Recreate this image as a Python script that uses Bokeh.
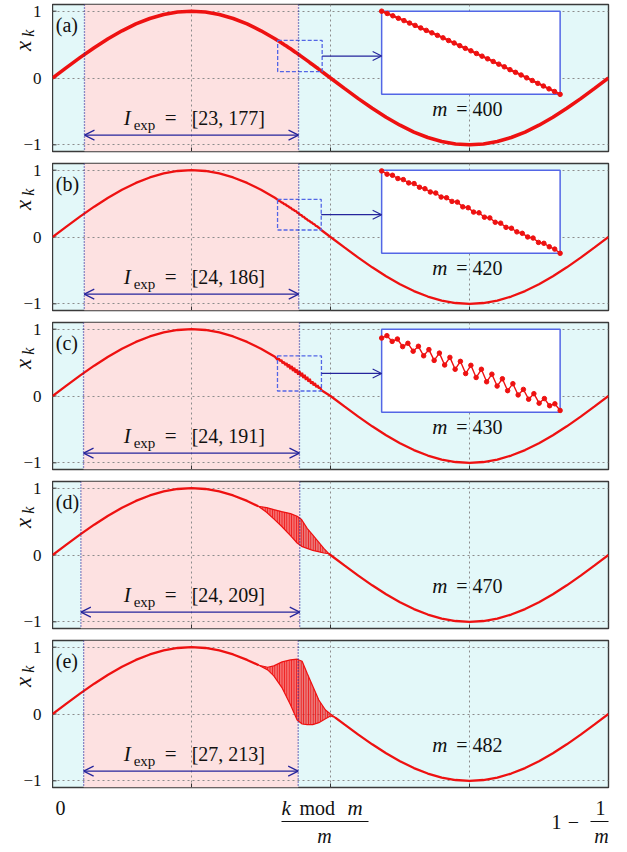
import math
from bokeh.plotting import figure
from bokeh.layouts import column, row
from bokeh.models import Label, Span, Arrow, OpenHead, FixedTicker
from bokeh.embed import file_html
from bokeh.resources import INLINE

FONT = "Liberation Serif"
CYAN = "#e3f8f9"
PINK = "#fde1e1"
RED = "#ee1111"
NAVY = "#25259c"
BLUE = "#5366e6"
GRID = "#8c8c8c"
INK = "#111111"

# ---------------- data ----------------
base_x = [i / 40 for i in range(41)]
base_y = [0.000, 0.156, 0.309, 0.454, 0.588, 0.707, 0.809, 0.891, 0.951, 0.988,
          1.000, 0.988, 0.951, 0.891, 0.809, 0.707, 0.588, 0.454, 0.309, 0.156,
          0.000, -0.156, -0.309, -0.454, -0.588, -0.707, -0.809, -0.891, -0.951, -0.988,
          -1.000, -0.988, -0.951, -0.891, -0.809, -0.707, -0.588, -0.454, -0.309, -0.156,
          0.000]

y_ticks = [-1, 0, 1]
y_tick_labels = ["\u22121", "0", "1"]
x_ticks = [0.25, 0.5, 0.75]

panel_tags = ["(a)", "(b)", "(c)", "(d)", "(e)"]
m_values = [400, 420, 430, 470, 482]
iexp_lo = [23, 24, 24, 24, 27]
iexp_hi = [177, 186, 191, 209, 213]

# zoomed windows (panels a, b, c): first index k0 and the values x_k
zoom_k0 = [162, 170, 174]
zoom_a = [0.562, 0.549, 0.536, 0.522, 0.509, 0.495, 0.482, 0.468, 0.454, 0.440,
          0.426, 0.412, 0.397, 0.383, 0.368, 0.353, 0.339, 0.324, 0.309, 0.294,
          0.279, 0.264, 0.249, 0.233, 0.218, 0.203, 0.187, 0.172, 0.156, 0.141,
          0.125, 0.110, 0.094]
zoom_b = [0.559, 0.541, 0.535, 0.517, 0.511, 0.493, 0.489, 0.469, 0.461, 0.443,
          0.437, 0.415, 0.411, 0.391, 0.387, 0.361, 0.356, 0.332, 0.328, 0.304,
          0.300, 0.276, 0.271, 0.248, 0.243, 0.223, 0.215, 0.195, 0.189, 0.165,
          0.160, 0.141, 0.128, 0.105]
zoom_c = [0.544, 0.559, 0.523, 0.538, 0.490, 0.511, 0.461, 0.492, 0.432, 0.471,
          0.403, 0.449, 0.374, 0.422, 0.347, 0.397, 0.320, 0.372, 0.295, 0.347,
          0.268, 0.316, 0.241, 0.287, 0.212, 0.256, 0.185, 0.220, 0.158, 0.193,
          0.133, 0.162, 0.117, 0.129, 0.087]
zoom_vals = [zoom_a, zoom_b, zoom_c]
zoom_ylo = [0.094, 0.1045, 0.075]
zoom_yhi = [0.562, 0.563, 0.600]

# oscillation envelopes (panels d, e)
osc_d_x = [0.370, 0.385, 0.398, 0.412, 0.428, 0.440, 0.448, 0.458, 0.468, 0.478, 0.488, 0.497]
osc_d_hi = [0.73, 0.71, 0.68, 0.65, 0.62, 0.58, 0.53, 0.40, 0.30, 0.20, 0.10, 0.02]
osc_d_lo = [0.73, 0.64, 0.54, 0.43, 0.29, 0.18, 0.13, 0.10, 0.07, 0.05, 0.03, 0.02]
osc_e_x = [0.371, 0.387, 0.398, 0.413, 0.428, 0.440, 0.449, 0.458, 0.468, 0.479, 0.491, 0.500, 0.508]
osc_e_hi = [0.73, 0.70, 0.72, 0.78, 0.81, 0.82, 0.79, 0.61, 0.42, 0.21, 0.06, 0.00, -0.05]
osc_e_lo = [0.73, 0.66, 0.57, 0.39, 0.14, -0.09, -0.15, -0.16, -0.16, -0.13, -0.07, -0.03, -0.05]
osc = {3: (osc_d_x, osc_d_hi, osc_d_lo), 4: (osc_e_x, osc_e_hi, osc_e_lo)}

# ---------------- layout constants ----------------
FW, FH = 556, 147
LEFT_W = 52
BOX_X0, BOX_X1, BOX_Y0, BOX_Y1 = 0.592, 0.913, -0.245, 1.0
PX = 1 / FW            # data units per pixel in x
PY = 2.2 / FH          # data units per pixel in y


def lbl(p, x, y, text, size="20px", style="normal", align="left", baseline="middle",
        angle=0.0, color=INK):
    p.add_layout(Label(x=x, y=y, text=text, text_font=FONT, text_font_size=size,
                       text_font_style=style, text_align=align, text_baseline=baseline,
                       angle=angle, text_color=color))


def bare(p):
    p.axis.visible = False
    p.grid.visible = False
    p.outline_line_color = None
    p.background_fill_color = None
    p.border_fill_color = "white"


def make_left(i, top, bottom):
    p = figure(frame_width=LEFT_W, frame_height=FH, x_range=(0, LEFT_W), y_range=(-1.1, 1.1),
               output_backend="svg", toolbar_location=None,
               min_border_left=0, min_border_right=0, min_border_top=top,
               min_border_bottom=bottom)
    bare(p)
    for t, s in zip(y_ticks, y_tick_labels):
        lbl(p, 41, t, s, size="17px", align="right")
    lbl(p, 22.5, 0.48, "x", size="23px", style="italic", align="center", angle=math.pi / 2)
    lbl(p, 27.5, 0.67, "k", size="16px", style="italic", align="center", angle=math.pi / 2)
    return p


def make_panel(i, top, bottom):
    m = m_values[i]
    p = figure(frame_width=FW, frame_height=FH, x_range=(0, 1), y_range=(-1.1, 1.1),
               output_backend="svg", toolbar_location=None,
               min_border_left=0, min_border_right=10, min_border_top=top,
               min_border_bottom=bottom)
    p.axis.visible = False
    p.background_fill_color = CYAN
    p.border_fill_color = "white"
    p.outline_line_color = "#3a3a3a"
    p.outline_line_width = 1.4

    p.xgrid.ticker = FixedTicker(ticks=x_ticks)
    p.ygrid.ticker = FixedTicker(ticks=y_ticks)
    p.grid.grid_line_color = GRID
    p.grid.grid_line_dash = "2 3"
    p.grid.grid_line_width = 1

    # inward tick marks
    p.segment(x0=x_ticks, x1=x_ticks, y0=[-1.1] * 3, y1=[-1.1 + 4 * PY] * 3,
              line_color="#333333", line_width=1)
    p.segment(x0=[0] * 3, x1=[4 * PX] * 3, y0=y_ticks, y1=y_ticks,
              line_color="#333333", line_width=1)

    xs0, xs1 = iexp_lo[i] / m, iexp_hi[i] / m
    # pink interval band (under the grid)
    p.quad(left=[xs0], right=[xs1], bottom=[-1.1], top=[1.1], fill_color=PINK,
           line_color=None, level="image")
    for xv in (xs0, xs1):
        p.add_layout(Span(location=xv, dimension="height", line_color=NAVY,
                          line_dash="1 2", line_width=1.3))

    lw = 3.6 if i == 0 else 2.3
    if i < 3:
        k0 = zoom_k0[i]
        vals = zoom_vals[i]
        zx = [(k0 + j) / m for j in range(len(vals))]
        xs = [x for x in base_x if x < zx[0]] + zx + [x for x in base_x if x > zx[-1]]
        ys = ([y for x, y in zip(base_x, base_y) if x < zx[0]] + vals +
              [y for x, y in zip(base_x, base_y) if x > zx[-1]])
        p.line(xs, ys, line_color=RED, line_width=lw)

        # dashed zoom rectangle
        rx0, rx1 = zx[0], zx[-1]
        ry0, ry1 = zoom_ylo[i], zoom_yhi[i]
        p.quad(left=[rx0], right=[rx1], bottom=[ry0], top=[ry1], fill_color=None,
               line_color=BLUE, line_dash="4 2", line_width=1.3)
        ymid = 0.5 * (ry0 + ry1)
        p.add_layout(Arrow(x_start=rx1, y_start=ymid, x_end=BOX_X0, y_end=ymid,
                           line_color=NAVY, line_width=1.2,
                           end=OpenHead(size=9, line_color=NAVY, line_width=1.2)))
        # inset box
        p.quad(left=[BOX_X0], right=[BOX_X1], bottom=[BOX_Y0], top=[BOX_Y1],
               fill_color="white", line_color=BLUE, line_width=1.5)
        ix = [BOX_X0 + (x - rx0) / (rx1 - rx0) * (BOX_X1 - BOX_X0) for x in zx]
        iy = [BOX_Y0 + (y - ry0) / (ry1 - ry0) * (BOX_Y1 - BOX_Y0) for y in vals]
        p.line(ix, iy, line_color=RED, line_width=2.2 if i == 0 else 1.4)
        p.scatter(ix, iy, marker="circle", size=4.5, fill_color=RED, line_color=RED)
    else:
        ox, ohi, olo = osc[i]
        x1 = [x for x in base_x if x < ox[0]] + [ox[0]]
        y1 = [y for x, y in zip(base_x, base_y) if x < ox[0]] + [ohi[0]]
        x2 = [ox[-1]] + [x for x in base_x if x > ox[-1]]
        y2 = [olo[-1]] + [y for x, y in zip(base_x, base_y) if x > ox[-1]]
        p.line(x1, y1, line_color=RED, line_width=lw)
        p.line(x2, y2, line_color=RED, line_width=lw)
        p.varea(x=ox, y1=olo, y2=ohi, fill_color=RED, fill_alpha=0.55,
                hatch_pattern="vertical_line", hatch_color=RED, hatch_scale=2.4,
                hatch_weight=1.1, hatch_alpha=0.95)
        p.line(ox, ohi, line_color=RED, line_width=1.2)
        p.line(ox, olo, line_color=RED, line_width=1.2)

    # interval arrow and label
    p.add_layout(Arrow(x_start=xs0, y_start=-0.855, x_end=xs1, y_end=-0.855,
                       line_color=NAVY, line_width=1.3,
                       start=OpenHead(size=10, line_color=NAVY, line_width=1.2),
                       end=OpenHead(size=10, line_color=NAVY, line_width=1.2)))
    lx = 0.128
    lbl(p, lx, -0.60, "I", size="21px", style="italic")
    lbl(p, lx + 10 * PX, -0.70, "exp", size="15px")
    lbl(p, lx + 41 * PX, -0.60, "=", size="21px")
    lbl(p, lx + 68 * PX, -0.60, "[%d, %d]" % (iexp_lo[i], iexp_hi[i]), size="20px")

    # m label
    lbl(p, 0.683, -0.465, "m", size="21px", style="italic")
    lbl(p, 0.683 + 24 * PX, -0.465, "= %d" % m, size="20px")

    # panel tag
    lbl(p, 0.006, 0.80, panel_tags[i], size="20px")
    return p


rows = []
for i in range(5):
    top = 4
    bottom = 8 if i < 4 else 4
    rows.append(row(make_left(i, top, bottom), make_panel(i, top, bottom), spacing=0))

# bottom axis labels
BH = 56
q = figure(frame_width=FW, frame_height=BH, x_range=(0, 1), y_range=(0, BH),
           output_backend="svg", toolbar_location=None,
           min_border_left=LEFT_W, min_border_right=10, min_border_top=0, min_border_bottom=0)
bare(q)
BAR = 26
NUM = BAR + 14
DEN = BAR - 14
lbl(q, 8 * PX, NUM, "0", size="20px", align="center")
lbl(q, 229 * PX, NUM, "k", size="21px", style="italic")
lbl(q, 247 * PX, NUM, "mod", size="20px")
lbl(q, 295 * PX, NUM, "m", size="21px", style="italic")
q.segment(x0=[229 * PX], x1=[316 * PX], y0=[BAR], y1=[BAR], line_color=INK, line_width=1.2)
lbl(q, 272 * PX, DEN, "m", size="20px", style="italic", align="center")
lbl(q, 504 * PX, BAR, "1", size="20px", align="center")
lbl(q, 521 * PX, BAR, "\u2212", size="20px", align="center")
q.segment(x0=[538 * PX], x1=[558 * PX], y0=[BAR], y1=[BAR], line_color=INK, line_width=1.2)
lbl(q, 548 * PX, NUM, "1", size="20px", align="center")
lbl(q, 549 * PX, DEN, "m", size="20px", style="italic", align="center")

layout = column(*rows, q, spacing=0)
open("out.html", "w").write(file_html(layout, INLINE))
